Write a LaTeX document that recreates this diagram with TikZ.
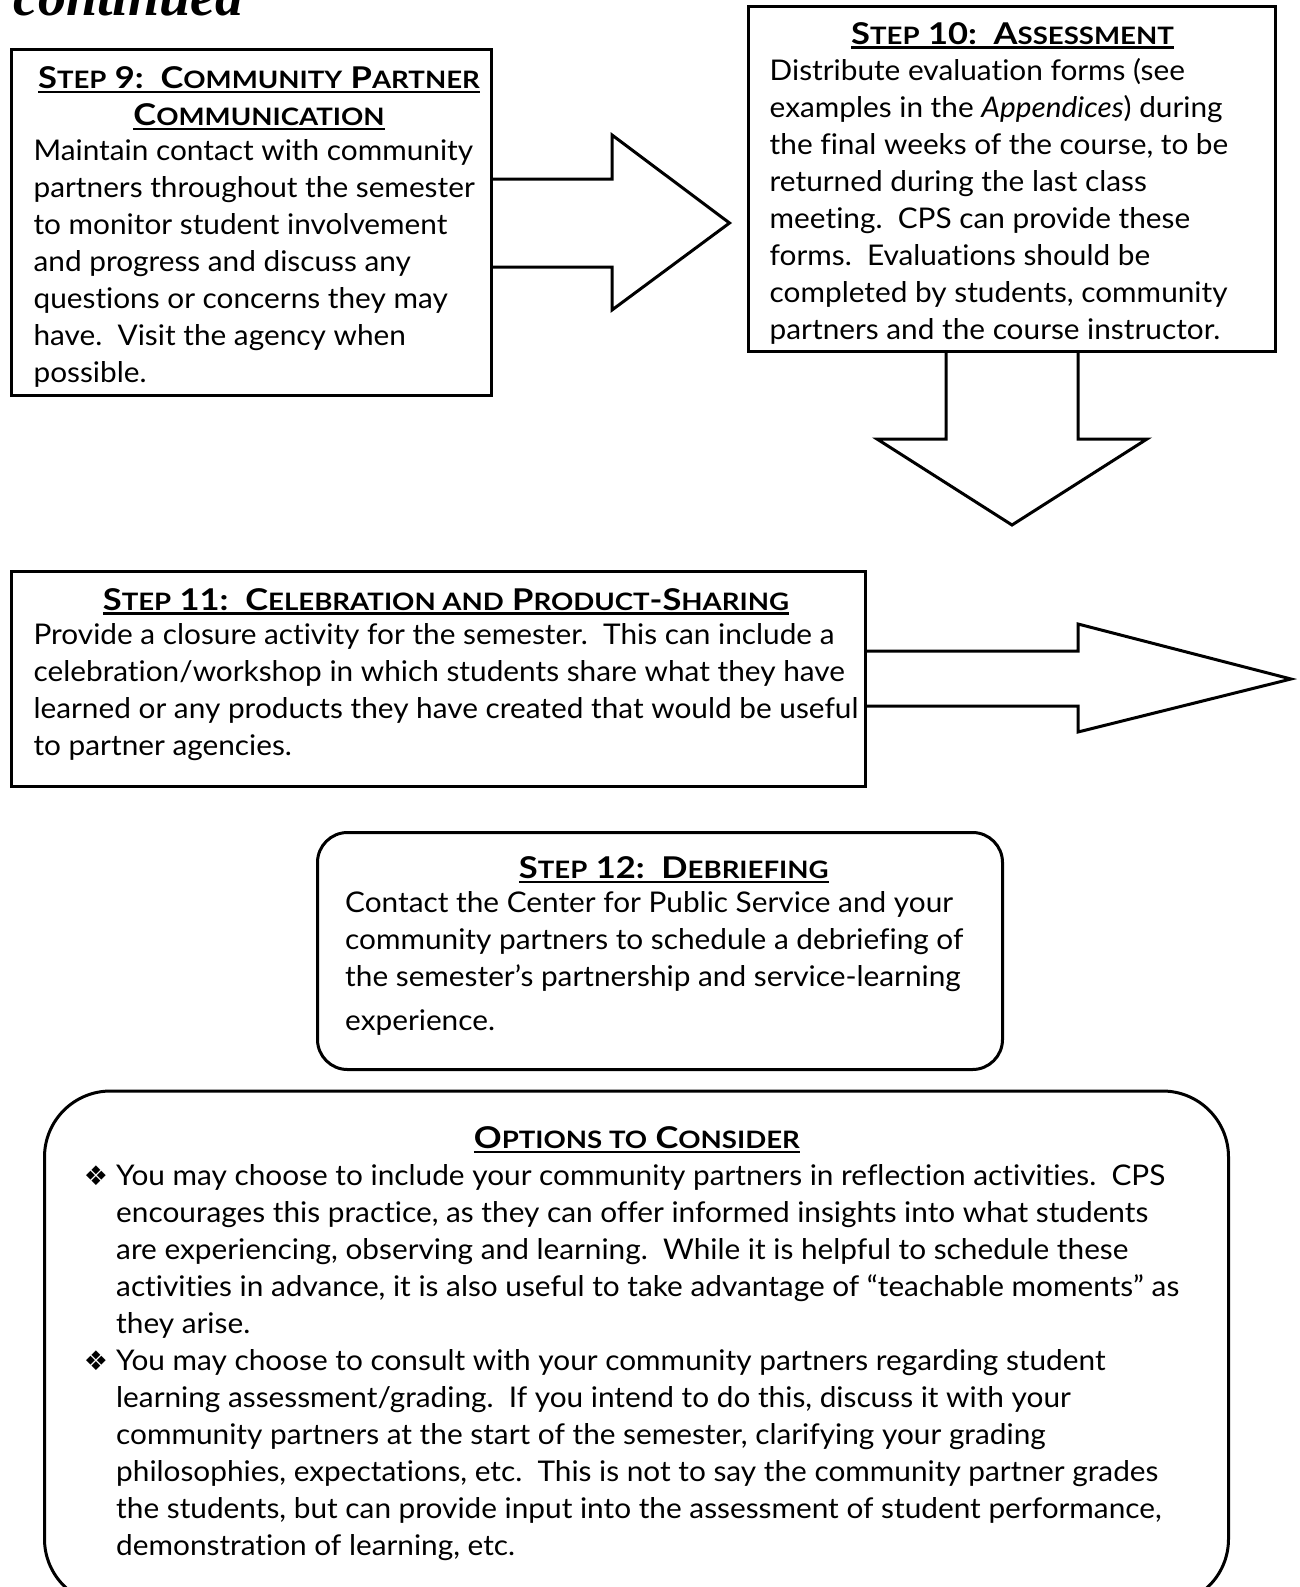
\documentclass[tikz,border=0pt]{standalone}
\usepackage{fontspec}
\setmainfont{Lato}[FakeStretch=1.045, Ligatures=NoCommon]
\newfontfamily\titlefont{Lato}[FakeStretch=1.15, Ligatures=NoCommon]
\newfontfamily\symfont{DejaVu Sans}
\newfontfamily\headfont{Liberation Serif}
\usetikzlibrary{positioning, calc}

\newcommand{\smc}[1]{{\fontsize{24}{24}\selectfont #1}}
\newcommand{\uline}[1]{\setbox0\hbox{#1}\rlap{\rule[-4.5pt]{\wd0}{2.4pt}}\box0}
\newcommand{\bul}{\llap{{\symfont\fontsize{27}{27}\selectfont ❖}\hspace{8pt}}}

\tikzset{
  boxline/.style={draw, line width=3pt},
  stepbox/.style={boxline, rectangle, inner sep=0pt},
  roundbox/.style={boxline, rectangle, inner sep=0pt},
  blockarrow/.style={line width=3pt},
  steptitle/.style={font=\titlefont\bfseries\fontsize{30}{37}\selectfont, align=center, inner sep=0pt, anchor=north},
  steptext/.style={font=\fontsize{28.5}{37}\selectfont, align=left, inner sep=0pt, anchor=north west},
}

\begin{document}
\frenchspacing
\begin{tikzpicture}[x=1pt, y=-1pt]
    \useasboundingbox (0,0) rectangle (1299,1587);
    % heading cut off at the top
    \node[font=\headfont\bfseries\itshape\fontsize{56}{56}\selectfont, anchor=base west, inner sep=0pt] (cont) at (13,16) {continued};

    % boxes
    \node[stepbox, minimum width=480pt, minimum height=346pt] (s9) at (251.5,222.5) {};
    \node[stepbox, minimum width=527pt, minimum height=345pt] (s10) at (1012,179) {};
    \node[stepbox, minimum width=854pt, minimum height=215pt] (s11) at (438.5,679) {};
    \node[roundbox, rounded corners=30pt, minimum width=685pt, minimum height=237pt] (s12) at (660,951) {};
    \node[roundbox, rounded corners=66pt, minimum width=1184pt, minimum height=514pt] (opt) at (636.5,1348) {};

    % block arrows
    \coordinate (a1tip) at (729.5,223);
    \coordinate (a2tip) at (1012,525);
    \coordinate (a3tip) at (1291,679);
    \draw[blockarrow] (s9.east |- 0,179) -- (612,179) -- (612,135) -- (a1tip) -- (612,310) -- (612,267) -- (s9.east |- 0,267);
    \draw[blockarrow] (s10.south -| 946,0) -- (946,439) -- (877,439) -- (a2tip) -- (1147,439) -- (1078,439) -- (s10.south -| 1078,0);
    \draw[blockarrow] (s11.east |- 0,651) -- (1078,651) -- (1078,624) -- (a3tip) -- (1078,732) -- (1078,706) -- (s11.east |- 0,706);

    % step 9
    \node[steptitle] (t9) at (259,66.5) {\uline{S\smc{TEP} 9:\ \ C\smc{OMMUNITY} P\smc{ARTNER}}\\\uline{C\smc{OMMUNICATION}}};
    \node[steptext] (b9) at (33.4,139.5) {Maintain contact with community\\
      partners throughout the semester\\
      to monitor student involvement\\
      and progress and discuss any\\
      questions or concerns they may\\
      have.\ \ Visit the agency when\\
      possible.};

    % step 10
    \node[steptitle] (t10) at (1012.5,22) {\uline{S\smc{TEP} 10:\ \ A\smc{SSESSMENT}}};
    \node[steptext] (b10) at (769.5,58.5) {Distribute evaluation forms (see\\
      examples in the \textit{Appendices}) during\\
      the final weeks of the course, to be\\
      returned during the last class\\
      meeting.\ \ CPS can provide these\\
      forms.\ \ Evaluations should be\\
      completed by students, community\\
      partners and the course instructor.};

    % step 11
    \node[steptitle] (t11) at (446,588) {\uline{S\smc{TEP} 11:\ \ C\smc{ELEBRATION AND} P\smc{RODUCT}-S\smc{HARING}}};
    \node[steptext] (b11) at (33.4,623.5) {Provide a closure activity for the semester.\ \ This can include a\\
      celebration/workshop in which students share what they have\\
      learned or any products they have created that would be useful\\
      to partner agencies.};

    % step 12
    \node[steptitle] (t12) at (673.8,856.5) {\uline{S\smc{TEP} 12:\ \ D\smc{EBRIEFING}}};
    \node[steptext] (b12) at (345,891.5) {Contact the Center for Public Service and your\\
      community partners to schedule a debriefing of\\
      the semester’s partnership and service-learning\\[7pt]
      experience.};

    % options
    \node[steptitle] (topt) at (636.9,1126.5) {\uline{O\smc{PTIONS TO} C\smc{ONSIDER}}};
    \node[steptext] (bopt) at (116,1164.5) {\bul You may choose to include your community partners in reflection activities.\ \ CPS\\
      encourages this practice, as they can offer informed insights into what students\\
      are experiencing, observing and learning.\ \ While it is helpful to schedule these\\
      activities in advance, it is also useful to take advantage of “teachable moments” as\\
      they arise.\\
      \bul You may choose to consult with your community partners regarding student\\
      learning assessment/grading.\ \ If you intend to do this, discuss it with your\\
      community partners at the start of the semester, clarifying your grading\\
      philosophies, expectations, etc.\ \ This is not to say the community partner grades\\
      the students, but can provide input into the assessment of student performance,\\
      demonstration of learning, etc.};
\end{tikzpicture}
\end{document}
